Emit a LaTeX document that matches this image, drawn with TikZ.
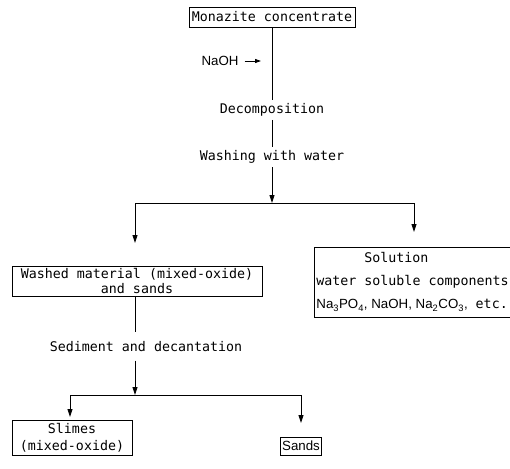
\documentclass[tikz,border=0pt]{standalone}
\usepackage{fontspec}
\newfontfamily\typefont{DejaVu Sans Mono}
\newfontfamily\chemfont{Liberation Sans}
\usetikzlibrary{arrows.meta}
\tikzset{
    stage/.style={draw, line width=0.8pt, inner sep=2pt},
    link/.style={line width=0.9pt},
    flow/.style={line width=0.9pt, -{Triangle[length=8pt,width=5pt]}},
    chem/.style={font=\chemfont\fontsize{13.3}{15}\selectfont},
}
\begin{document}
\begin{tikzpicture}[x=1pt,y=1pt,font=\typefont\fontsize{13.3}{15}\selectfont]
    \useasboundingbox (0,0) rectangle (510,-468);
    \node [stage, minimum width=166pt, minimum height=20pt] (conc) at (272,-17) {Monazite concentrate};
    \node [chem, inner sep=0pt] (naoh) at (220,-61) {NaOH};
    \coordinate (naohend) at (261,-61);
    \node (decomp) at (272,-110) {Decomposition};
    \node (wash) at (272,-157) {Washing with water};
    \coordinate (split) at (272,-203);
    \coordinate (towashed) at (135,-243);
    \coordinate (tosol) at (414,-232);
    \node [stage, minimum width=250pt, minimum height=30pt, align=center] (washed) at (137,-281)
        {Washed material (mixed-oxide)\\and sands};
    \node [stage, minimum width=195pt, minimum height=70pt, align=left,
        font=\typefont\fontsize{13.3}{23}\selectfont] (sol) at (412.5,-282)
        {\hspace*{48pt}Solution\\water soluble components\\
         {\chemfont Na\textsubscript{3}PO\textsubscript{4}, NaOH, Na\textsubscript{2}CO\textsubscript{3},} etc.};
    \node (sediment) at (146,-347) {Sediment and decantation};
    \coordinate (split2) at (135,-395);
    \coordinate (toslimes) at (70,-417);
    \coordinate (tosands) at (301,-423);
    \node [stage, minimum width=120pt, minimum height=35pt, align=center,
        font=\typefont\fontsize{13.3}{17}\selectfont] (slimes) at (72,-437.5)
        {Slimes\\(mixed-oxide)};
    \node [stage, chem, minimum height=18pt] (sands) at (301,-446) {Sands};
    % main stem
    \draw [link] (conc.south) -- (decomp.north);
    \draw [flow, -{Triangle[length=6pt,width=4pt]}, shorten <=6pt] (naoh.east) -- (naohend);
    \draw [link] (decomp.south) -- (wash.north);
    \draw [flow] (wash.south) -- (split);
    \draw [flow] (split) -| (towashed);
    \draw [flow] (split) -| (tosol);
    % washed material branch
    \draw [link, shorten >=6pt] (washed.south -| split2) -- (sediment.north -| split2);
    \draw [flow, shorten <=5pt] (sediment.south -| split2) -- (split2);
    \draw [flow] (split2) -| (toslimes);
    \draw [flow] (split2) -| (tosands);
\end{tikzpicture}
\end{document}
